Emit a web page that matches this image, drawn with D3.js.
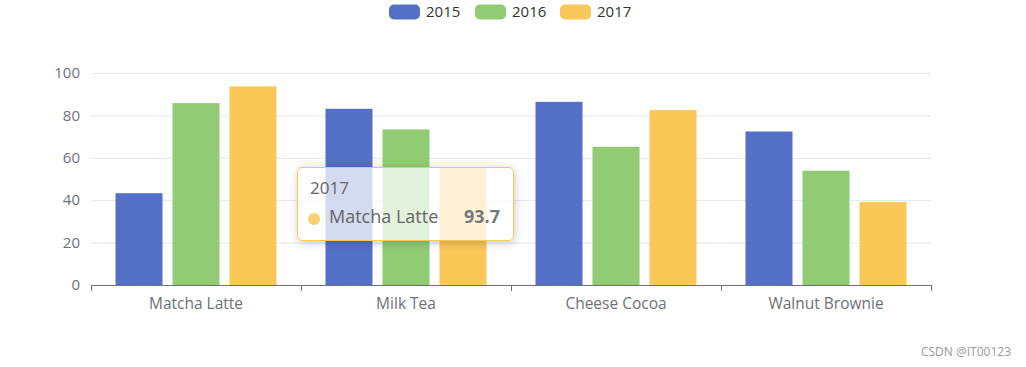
<!DOCTYPE html>
<html><head><meta charset="utf-8">
<script src="https://cdn.jsdelivr.net/npm/d3@7/dist/d3.min.js"></script>
<style>
html,body{margin:0;padding:0;background:#fff;}
#wrap{position:relative;width:1026px;height:367px;overflow:hidden;font-family:"Open Sans","Noto Sans",sans-serif;}
#tip{position:absolute;box-sizing:border-box;background:rgba(255,255,255,0.75);border:1px solid #fac858;border-radius:5px;box-shadow:1px 2px 10px rgba(0,0,0,0.2);color:#666;font-size:17px;}
</style></head><body>
<div id="wrap"><svg id="chart" width="1026" height="367"></svg><div id="tip"></div></div>
<script>
const categories = ["Matcha Latte", "Milk Tea", "Cheese Cocoa", "Walnut Brownie"];
const seriesNames = ["2015", "2016", "2017"];
const values2015 = [43.3, 83.1, 86.4, 72.4];
const values2016 = [85.8, 73.4, 65.2, 53.9];
const values2017 = [93.7, 55.1, 82.5, 39.1];
const yTicks = [0, 20, 40, 60, 80, 100];
const colors = ["#5470c6", "#91cc75", "#fac858"];

const seriesValues = [values2015, values2016, values2017];
const svg = d3.select("#chart");
const font = '"Open Sans","Noto Sans",sans-serif';
const L = 91, R = 931, T = 73, B = 285;

const x = d3.scaleBand().domain(categories).range([L, R]).paddingInner(0).paddingOuter(0);
const inner = d3.scaleBand().domain(seriesNames).range([0, 161]).paddingInner(10/57).paddingOuter(0);
const off = (x.bandwidth() - 161) / 2;
const y = d3.scaleLinear().domain([0, 100]).range([B, T]);

// grid
svg.append("g").selectAll("line").data(yTicks.filter(d => d > 0)).join("line")
  .attr("x1", L).attr("x2", R).attr("y1", d => y(d) + 0.5).attr("y2", d => y(d) + 0.5)
  .attr("stroke", "#e0e6f1").attr("stroke-width", 1);

// y labels
svg.append("g").selectAll("text").data(yTicks).join("text")
  .attr("x", L - 11).attr("y", d => y(d)).attr("dy", "0.35em")
  .attr("text-anchor", "end").attr("fill", "#6e7079")
  .style("font-family", font).style("font-size", "15px").text(d => d);

// bars
seriesNames.forEach((s, si) => {
  svg.append("g").selectAll("rect").data(categories).join("rect")
    .attr("x", c => x(c) + off + inner(s))
    .attr("width", inner.bandwidth())
    .attr("y", (c, i) => y(seriesValues[si][i]))
    .attr("height", (c, i) => B - y(seriesValues[si][i]))
    .attr("fill", colors[si]);
});

// x axis
const xa = svg.append("g").attr("transform", `translate(0,${B + 0.5})`)
  .call(d3.axisBottom(x).tickSize(0).tickPadding(12));
xa.select(".domain").remove();
xa.selectAll("text").attr("fill", "#6e7079").style("font-family", font).style("font-size", "15.5px");
svg.append("line").attr("x1", L).attr("x2", R).attr("y1", B + 0.5).attr("y2", B + 0.5)
  .attr("stroke", "#6e7079").attr("stroke-width", 1);
const bounds = categories.map(c => x(c)).concat([R]);
svg.append("g").selectAll("line").data(bounds).join("line")
  .attr("x1", d => Math.round(d) + 0.5).attr("x2", d => Math.round(d) + 0.5)
  .attr("y1", B).attr("y2", B + 6).attr("stroke", "#6e7079");

// legend
const legendX = [389, 475, 560];
const lg = svg.append("g");
seriesNames.forEach((s, i) => {
  lg.append("rect").attr("x", legendX[i]).attr("y", 4.5).attr("width", 31).attr("height", 15)
    .attr("rx", 5).attr("fill", colors[i]);
  lg.append("text").attr("x", legendX[i] + 37).attr("y", 12).attr("dy", "0.35em")
    .attr("fill", "#333").style("font-family", font).style("font-size", "15px").text(s);
});

// watermark
svg.append("text").attr("x", 1011).attr("y", 352).attr("dy", "0.35em").attr("text-anchor", "end")
  .attr("fill", "#999").style("font-family", font).style("font-size", "12px").text("CSDN @IT00123");

// tooltip
const tip = d3.select("#tip").style("left", "297px").style("top", "167px").style("width", "217px").style("height", "74px");
tip.append("div").style("position", "absolute").style("left", "12px").style("top", "8px").text(seriesNames[2]);
tip.append("div").style("position", "absolute").style("left", "10px").style("top", "45px")
  .style("width", "12px").style("height", "12px").style("border-radius", "50%").style("background", "#fbd06f");
tip.append("div").style("position", "absolute").style("left", "31px").style("top", "36px").style("font-size", "18px").text(categories[0]);
tip.append("div").style("position", "absolute").style("right", "13px").style("top", "36px").style("font-size", "18px")
  .style("font-weight", "bold").style("color", "#777").text(values2017[0]);
</script>
</body></html>
